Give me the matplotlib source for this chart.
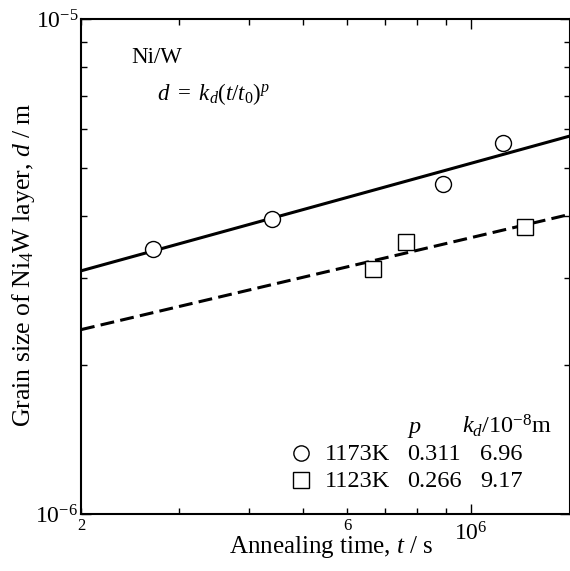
import matplotlib
matplotlib.use("Agg")
import matplotlib.pyplot as plt
import numpy as np
from matplotlib.lines import Line2D

# ---- data ----
t_1173 = [2.69e5, 4.40e5, 8.89e5, 1.138e6]
d_1173 = [3.43e-6, 3.94e-6, 4.64e-6, 5.61e-6]
t_1123 = [6.67e5, 7.64e5, 1.25e6]
d_1123 = [3.13e-6, 3.55e-6, 3.80e-6]
temps = ["1173K", "1123K"]
p_vals = [0.311, 0.266]
kd_vals = [6.96e-8, 9.17e-8]
x_range = [2e5, 1.5e6]
y_range = [1e-6, 1e-5]

plt.rcParams['font.family'] = ['Liberation Serif', 'DejaVu Serif']
plt.rcParams['mathtext.fontset'] = 'custom'
plt.rcParams['mathtext.rm'] = 'Liberation Serif'
plt.rcParams['mathtext.it'] = 'Liberation Serif:italic'
plt.rcParams['mathtext.bf'] = 'Liberation Serif:bold'
plt.rcParams['lines.scale_dashes'] = False

W, H = 570, 571
fig = plt.figure(figsize=(W / 100, H / 100), dpi=100)
L, R, T, B = 81, 569.5, 19, 514
ax = fig.add_axes([L / W, 1 - B / H, (R - L) / W, (B - T) / H])
ax.set_xscale('log')
ax.set_yscale('log')
ax.set_xlim(*x_range)
ax.set_ylim(*y_range)

def px(x, y):
    return x / W, 1 - y / H

# fit lines d = kd (t/t0)^p, t0 = 1 s
tt = np.array(x_range)
ax.plot(tt, kd_vals[0] * tt ** p_vals[0], color='black', lw=2.2, solid_capstyle='butt')
ax.plot(tt, kd_vals[1] * tt ** p_vals[1], color='black', lw=2.2, dashes=(10, 4.5),
        dash_capstyle='butt')

ax.plot(t_1173, d_1173, linestyle='none', marker='o', ms=11.5, mfc='white',
        mec='black', mew=1.0, zorder=5)
ax.plot(t_1123, d_1123, linestyle='none', marker='s', ms=11.5, mfc='white',
        mec='black', mew=1.0, zorder=5)

for s in ax.spines.values():
    s.set_linewidth(1.5)

# ticks
ax.set_yticks([1e-6, 1e-5], labels=[r'$10^{-6}$', r'$10^{-5}$'])
ax.set_yticks([k * 1e-6 for k in range(2, 10)], minor=True, labels=[])
ax.set_xticks([1e6], labels=[r'$10^{6}$'])
ax.set_xticks([2e5, 3e5, 4e5, 5e5, 6e5, 7e5, 8e5, 9e5], minor=True,
              labels=['2', '', '', '', '6', '', '', ''])
ax.tick_params(which='both', direction='in', top=True, right=True, width=1.0)
ax.tick_params(which='major', length=7.5)
ax.tick_params(which='minor', length=4.5)
ax.tick_params(axis='y', which='major', labelsize=17, pad=2)
ax.tick_params(axis='x', which='major', labelsize=17, pad=6)
ax.tick_params(axis='x', which='minor', labelsize=12, pad=3)

# axis labels
fig.text(*px(331, 547), r'Annealing time, $t$ / s', ha='center', va='center', fontsize=18)
fig.text(*px(24, 265), r'Grain size of Ni$_4$W layer, $d$ / m', ha='center', va='center',
         rotation=90, fontsize=18.5)

# annotations
fig.text(*px(131, 63), 'Ni/W', ha='left', va='baseline', fontsize=16.5)
fig.text(*px(157, 100), r'$d\ =\ k_d(t/t_0)^p$', ha='left', va='baseline', fontsize=16.5)

# legend table
fig.text(*px(407, 433), r'$p$', ha='left', va='baseline', fontsize=17.5)
fig.text(*px(462, 433), r'$k_d$/10$^{-8}$m', ha='left', va='baseline', fontsize=17.5)
rows_y = [460, 487]
markers = ['o', 's']
for i in range(2):
    yb = rows_y[i]
    fig.add_artist(Line2D([300.7 / W], [1 - (yb - 7) / H], marker=markers[i],
                          ms=11, mfc='white', mec='black', mew=1.0,
                          linestyle='none', transform=fig.transFigure))
    fig.text(*px(325, yb), temps[i], ha='left', va='baseline', fontsize=17.5)
    fig.text(*px(407, yb), f'{p_vals[i]:.3f}', ha='left', va='baseline', fontsize=17.5)
    fig.text(*px(480, yb), f'{kd_vals[i] * 1e8:.2f}', ha='left', va='baseline', fontsize=17.5)

fig.savefig('out.png', dpi=100)
